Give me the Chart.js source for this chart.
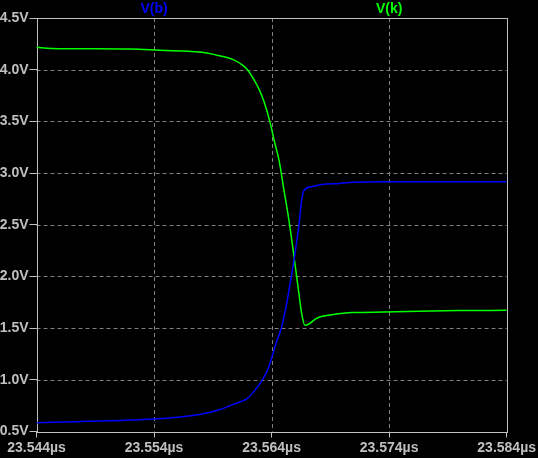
<!DOCTYPE html>
<html>
<head>
<meta charset="utf-8">
<script src="https://cdn.jsdelivr.net/npm/chart.js@4.4.0/dist/chart.umd.min.js"></script>
<style>
  html, body { margin: 0; padding: 0; background: #000; }
  #c { display: block; background: #000; }
</style>
</head>
<body>
<canvas id="c" width="538" height="458"></canvas>
<script>
// ---------------------------------------------------------------
// Data (time in ns after 23.544 us, voltages in V)
// ---------------------------------------------------------------
const vkTime  = [0, 1.23, 8.09, 10.47, 13.86, 15.55, 16.68, 17.53, 17.95, 18.52, 18.94, 19.36, 19.85,
                 20.21, 20.64, 21.06, 21.48, 21.91, 22.33, 22.56, 22.84, 23.18, 23.75, 24.31, 25.15,
                 26.85, 29.53, 35.89, 40];
const vkVolts = [4.216, 4.206, 4.200, 4.187, 4.170, 4.135, 4.100, 4.045, 4.000, 3.900, 3.810, 3.690, 3.500,
                 3.320, 3.120, 2.830, 2.540, 2.190, 1.830, 1.640, 1.527, 1.540, 1.590, 1.614, 1.630,
                 1.650, 1.655, 1.670, 1.672];

const vbTime  = [0, 9.96, 12.16, 13.86, 15.55, 16.68, 17.95, 18.52, 19.22, 19.75, 20.03, 20.46, 20.83,
                 21.34, 21.48, 21.91, 22.33, 22.56, 22.75, 23.46, 24.31, 25.72, 26.85, 29.53, 40];
const vbVolts = [0.585, 0.620, 0.640, 0.665, 0.710, 0.760, 0.820, 0.890, 1.000, 1.120, 1.220, 1.380, 1.500,
                 1.770, 1.866, 2.160, 2.500, 2.740, 2.830, 2.870, 2.890, 2.900, 2.910, 2.915, 2.915];

const xTickLabels = ['23.544µs', '23.554µs', '23.564µs', '23.574µs', '23.584µs'];
const seriesNames = ['V(b)', 'V(k)'];
const seriesColors = ['#0000ff', '#00ff00'];

const FONT = { family: '"Liberation Sans", Arial, sans-serif', size: 14, weight: 'bold' };
const TEXT_GRAY = '#c0c0c0';

function toPoints(ts, vs) {
    return ts.map((t, i) => ({ x: t, y: vs[i] }));
}

// ---------------------------------------------------------------
// Plugin: dashed grid, frame and trace labels on top
// ---------------------------------------------------------------
const scopeFrame = {
    id: 'scopeFrame',
    beforeDatasetsDraw(chart) {
        const { ctx, chartArea: a, scales: { x, y } } = chart;
        ctx.save();
        ctx.strokeStyle = '#808080';
        ctx.lineWidth = 1;
        ctx.setLineDash([4, 3]);
        x.ticks.forEach(t => {
            if (t.value <= x.min || t.value >= x.max) return;
            const px = Math.round(x.getPixelForValue(t.value)) + 0.5;
            ctx.beginPath(); ctx.moveTo(px, a.top); ctx.lineTo(px, a.bottom); ctx.stroke();
        });
        y.ticks.forEach(t => {
            if (t.value <= y.min || t.value >= y.max) return;
            const py = Math.round(y.getPixelForValue(t.value)) + 0.5;
            ctx.beginPath(); ctx.moveTo(a.left, py); ctx.lineTo(a.right, py); ctx.stroke();
        });
        ctx.setLineDash([]);
        ctx.strokeStyle = TEXT_GRAY;
        ctx.strokeRect(Math.round(a.left) + 0.5, Math.round(a.top) + 0.5,
                       Math.round(a.right - a.left), Math.round(a.bottom - a.top));
        ctx.restore();
    },
    afterDraw(chart) {
        const { ctx, scales: { x } } = chart;
        ctx.save();
        ctx.font = `${FONT.weight} ${FONT.size}px ${FONT.family}`;
        ctx.textAlign = 'center';
        ctx.textBaseline = 'middle';
        [10, 30].forEach((v, i) => {
            ctx.fillStyle = seriesColors[i];
            ctx.fillText(seriesNames[i], x.getPixelForValue(v), 9);
        });
        ctx.restore();
    }
};

// ---------------------------------------------------------------
// Chart
// ---------------------------------------------------------------
new Chart(document.getElementById('c'), {
    type: 'line',
    data: {
        datasets: [
            { label: seriesNames[0], data: toPoints(vbTime, vbVolts), borderColor: seriesColors[0],
              borderWidth: 1.5, pointRadius: 0, cubicInterpolationMode: 'monotone' },
            { label: seriesNames[1], data: toPoints(vkTime, vkVolts), borderColor: seriesColors[1],
              borderWidth: 1.5, pointRadius: 0, cubicInterpolationMode: 'monotone' }
        ]
    },
    options: {
        responsive: false,
        animation: false,
        devicePixelRatio: 1,
        layout: { padding: { top: 18, right: 30, left: 0, bottom: 0 } },
        plugins: { legend: { display: false }, tooltip: { enabled: false } },
        scales: {
            x: {
                type: 'linear', min: 0, max: 40,
                afterFit: s => { s.height = 26.5; },
                ticks: { stepSize: 10, color: TEXT_GRAY, font: FONT, padding: 2, maxRotation: 0,
                         callback: (v, i) => xTickLabels[i] },
                grid: { drawOnChartArea: false, drawTicks: true, tickLength: 6, tickColor: TEXT_GRAY },
                border: { display: false }
            },
            y: {
                min: 0.5, max: 4.5,
                afterFit: s => { s.width = 36.5; },
                ticks: { stepSize: 0.5, color: TEXT_GRAY, font: FONT, padding: 1,
                         callback: v => v.toFixed(1) + 'V' },
                grid: { drawOnChartArea: false, drawTicks: true, tickLength: 7, tickColor: TEXT_GRAY },
                border: { display: false }
            }
        }
    },
    plugins: [scopeFrame]
});
</script>
</body>
</html>
